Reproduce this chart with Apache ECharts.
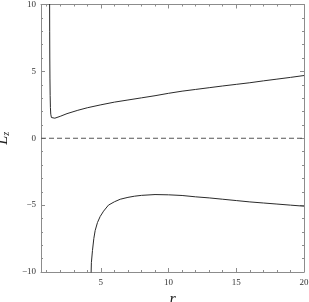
<!DOCTYPE html>
<html><head><meta charset="utf-8">
<script src="https://cdn.jsdelivr.net/npm/echarts@6/dist/echarts.min.js"></script>
<style>html,body{margin:0;padding:0;background:#fff}#c{width:309px;height:302px}</style>
</head><body><div id="c"></div>
<script>
// Upper branch (r, Lz)
const upperR = [1.215,1.222,1.23,1.24,1.255,1.275,1.3,1.35,1.45,1.6,2,2.5,3.3,4,5,6,7,8,9,10,11,12,13,14,15,16,17,18,19,20];
const upperL = [10.5,8,6,4.5,3.2,2.3,1.8,1.55,1.47,1.5,1.64,1.84,2.09,2.28,2.5,2.7,2.86,3.02,3.18,3.36,3.52,3.65,3.78,3.91,4.03,4.15,4.29,4.42,4.55,4.69];
// Lower branch (r, Lz)
const lowerR = [4.27,4.3,4.38,4.48,4.58,4.75,4.95,5.2,5.56,6,6.43,7,7.5,8,9,10,11,12,13,14,15,16,17,18,19,20];
const lowerL = [-10.5,-9.3,-8.4,-7.5,-6.9,-6.3,-5.85,-5.45,-5.0,-4.75,-4.56,-4.42,-4.33,-4.27,-4.21,-4.23,-4.28,-4.38,-4.46,-4.56,-4.66,-4.76,-4.84,-4.92,-5.0,-5.08];
const xMajor = [5,10,15,20];
const xMinor = [1,2,3,4,6,7,8,9,11,12,13,14,16,17,18,19];
const yTicks = [-10,-5,0,5,10];
const xMin = 0.58, xMax = 20, yMin = -10, yMax = 10;

const frame = '#8c8c8c';
const font = 'Liberation Serif';
const fmt = v => (v < 0 ? '\u2212' + Math.abs(v) : String(v));

function xAx(pos, vals, len, showLine, showLabel, extra) {
  return Object.assign({
    type: 'value', position: pos, min: xMin, max: xMax,
    axisLine: {show: showLine, onZero: false, lineStyle: {color: frame, width: 1}},
    axisTick: {show: true, inside: true, length: len, customValues: vals, lineStyle: {color: frame}},
    axisLabel: {show: showLabel, customValues: vals, color: '#333', fontFamily: font, fontSize: 9, margin: 6, formatter: fmt},
    splitLine: {show: false}
  }, extra || {});
}
function yAx(pos, showLabel, extra) {
  return Object.assign({
    type: 'value', position: pos, min: yMin, max: yMax, interval: 5,
    axisLine: {show: true, onZero: false, lineStyle: {color: frame, width: 1}},
    axisTick: {show: true, inside: true, length: 4, lineStyle: {color: frame}},
    minorTick: {show: true, splitNumber: 5, length: 2, lineStyle: {color: frame}},
    axisLabel: {show: showLabel, color: '#333', fontFamily: font, fontSize: 9, margin: 5, formatter: fmt},
    splitLine: {show: false}
  }, extra || {});
}

const chart = echarts.init(document.getElementById('c'), null, {renderer: 'canvas'});
chart.setOption({
  animation: false,
  grid: {left: 41, right: 5, top: 4.5, bottom: 30, containLabel: false, outerBoundsMode: 'none'},
  xAxis: [
    xAx('bottom', xMajor, 4, true, true, {
      name: 'r', nameLocation: 'middle', nameGap: 13,
      nameTextStyle: {fontFamily: font, fontStyle: 'italic', fontSize: 16, color: '#222'}
    }),
    xAx('bottom', xMinor, 2, false, false),
    xAx('top', xMajor, 4, true, false),
    xAx('top', xMinor, 2, false, false)
  ],
  yAxis: [
    yAx('left', true, {
      name: '{a|L}{b|z}', nameLocation: 'middle', nameGap: 20, nameRotate: 90,
      nameTextStyle: {rich: {
        a: {fontFamily: font, fontStyle: 'italic', fontSize: 16, color: '#222'},
        b: {fontFamily: font, fontStyle: 'italic', fontSize: 10, color: '#222', verticalAlign: 'bottom', padding: [7,0,0,0]}
      }}
    }),
    yAx('right', false)
  ],
  series: [
    {type: 'line', xAxisIndex: 0, yAxisIndex: 0, showSymbol: false, clip: true,
     data: upperR.map((r, i) => [r, upperL[i]]),
     lineStyle: {color: '#2a2a2a', width: 1}},
    {type: 'line', xAxisIndex: 0, yAxisIndex: 0, showSymbol: false, clip: true,
     data: lowerR.map((r, i) => [r, lowerL[i]]),
     lineStyle: {color: '#2a2a2a', width: 1}},
    {type: 'line', xAxisIndex: 0, yAxisIndex: 0, showSymbol: false,
     data: [[xMin, 0], [xMax, 0]],
     lineStyle: {color: '#555', width: 1, type: [5, 3]}}
  ]
});
</script></body></html>
